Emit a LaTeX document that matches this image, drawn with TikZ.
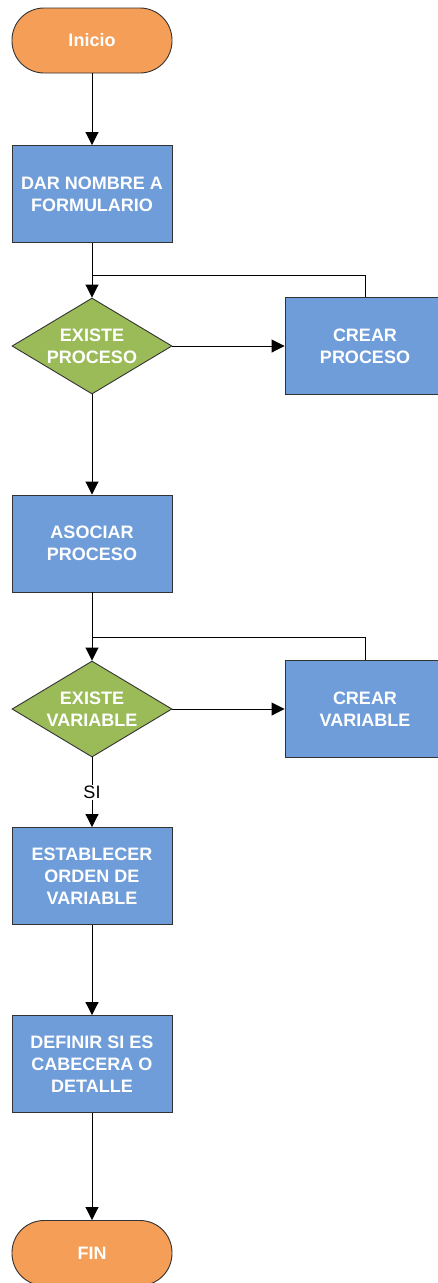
\documentclass[tikz,border=0pt]{standalone}
\usepackage{fontspec}
\setmainfont{Liberation Sans}
\usepackage{xcolor}
\usetikzlibrary{shapes,arrows.meta,positioning,calc}

\definecolor{naranjaFin}{HTML}{F59E57}
\definecolor{azulPaso}{HTML}{6F9DD9}
\definecolor{verdeDecision}{HTML}{9BBB59}

\tikzset{
    textoBlanco/.style={text=white, align=center, font=\bfseries\fontsize{18}{22}\selectfont},
    terminal/.style={draw=black!80, fill=naranjaFin, rectangle, rounded corners=32pt, minimum width=160pt, minimum height=65pt, textoBlanco},
    proceso/.style={draw=black!80, fill=azulPaso, rectangle, minimum width=160pt, minimum height=97pt, textoBlanco},
    decision/.style={draw=black!80, fill=verdeDecision, diamond, aspect=1.667, inner sep=-8pt, minimum width=160pt, minimum height=96pt, textoBlanco},
    flecha/.style={-{Triangle[width=13pt,length=13pt]}}
}

\begin{document}
\begin{tikzpicture}[x=1pt, y=-1pt, line width=0.9pt]
    \useasboundingbox (0,0) rectangle (437,1283);
    % main column
    \node[terminal] (inicio) at (92,40.5) {Inicio};
    \node[proceso] (nombre) at (92,194) {DAR NOMBRE A\\FORMULARIO};
    \node[decision] (existeProceso) at (92,346) {EXISTE\\PROCESO};
    \node[proceso] (crearProceso) at (365,346) {CREAR\\PROCESO};
    \node[proceso] (asociar) at (92,543.5) {ASOCIAR\\PROCESO};
    \node[decision] (existeVariable) at (92,709) {EXISTE\\VARIABLE};
    \node[proceso] (crearVariable) at (365,709) {CREAR\\VARIABLE};
    \node[proceso] (orden) at (92,876) {ESTABLECER\\ORDEN DE\\VARIABLE};
    \node[proceso] (detalle) at (92,1064) {DEFINIR SI ES\\CABECERA O\\DETALLE};
    \node[terminal] (fin) at (92,1253) {FIN};
    \coordinate (uneProceso) at (92,275);
    \coordinate (uneVariable) at (92,637);

    % connectors
    \draw[flecha] (inicio) -- (nombre);
    \draw[flecha] (nombre) -- (existeProceso);
    \draw[flecha] (existeProceso) -- (crearProceso);
    \draw (crearProceso.north) |- (uneProceso);
    \draw[flecha] (existeProceso) -- (asociar);
    \draw[flecha] (asociar) -- (existeVariable);
    \draw[flecha] (existeVariable) -- (crearVariable);
    \draw (crearVariable.north) |- (uneVariable);
    \draw[flecha] (existeVariable) -- node[fill=white, inner sep=1pt, font=\fontsize{18}{18}\selectfont] {SI} (orden);
    \draw[flecha] (orden) -- (detalle);
    \draw[flecha] (detalle) -- (fin);
\end{tikzpicture}
\end{document}
